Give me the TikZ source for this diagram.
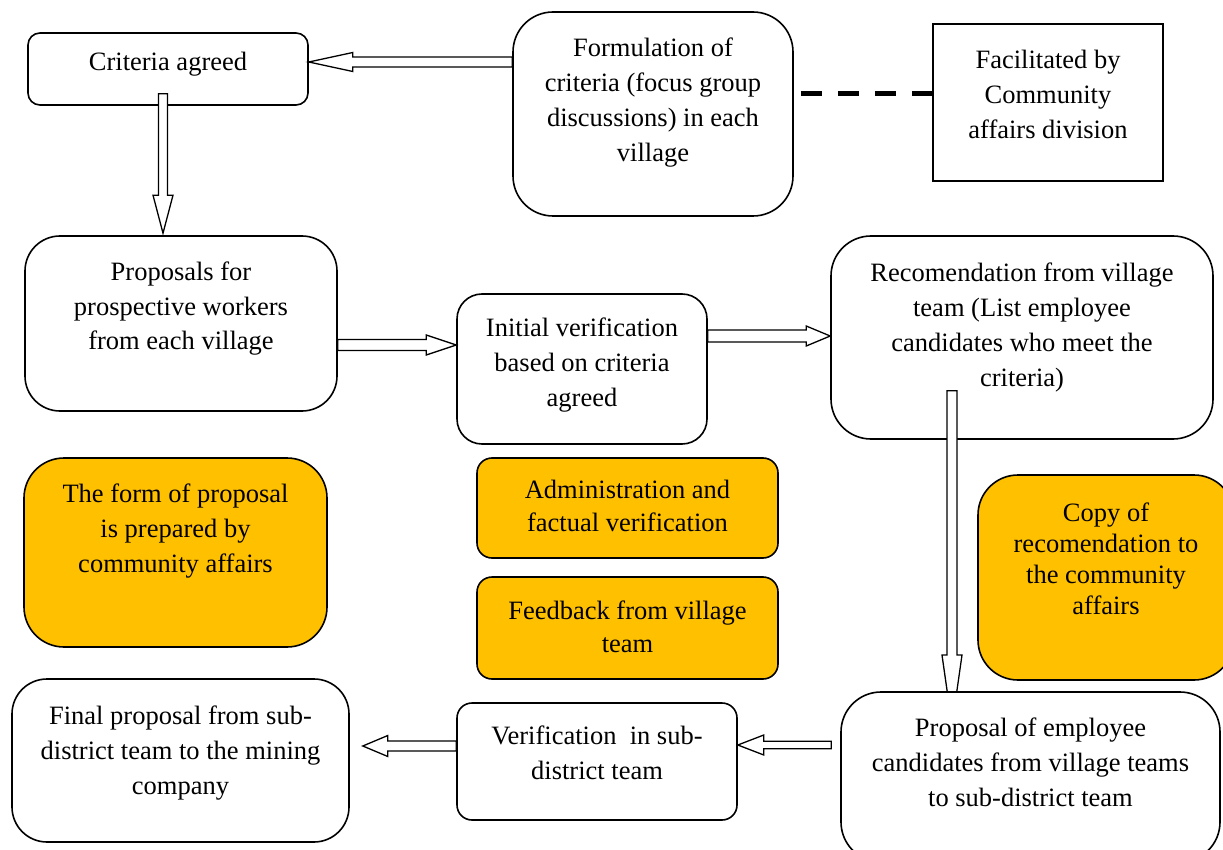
\documentclass[tikz,border=0pt]{standalone}
\usepackage{fontspec}
\setmainfont{Liberation Serif}
\usetikzlibrary{calc}
\definecolor{gold}{HTML}{FFC000}
\newcommand\bt[5]{\parbox[c][#2][t]{#1}{\centering\fontsize{26.5}{#4}\selectfont\vspace*{#3}\strut#5}}
\newcommand\blockarr[5]{%
  \coordinate (ba-s) at #1;
  \coordinate (ba-t) at #2;
  \coordinate (ba-b) at ($(ba-t)!#3!(ba-s)$);
  \draw[blockarrow] ($(ba-s)!#5!90:(ba-t)$) -- ($(ba-b)!#5!90:(ba-t)$) -- ($(ba-b)!#4!90:(ba-t)$) -- (ba-t)
     -- ($(ba-b)!#4!-90:(ba-t)$) -- ($(ba-b)!#5!-90:(ba-t)$) -- ($(ba-s)!#5!-90:(ba-t)$) -- cycle;
}
\tikzset{
  box/.style={draw, line width=1.6pt, fill=white, inner sep=0pt, rounded corners=#1},
  box/.default=10pt,
  obox/.style={box=#1, fill=gold},
  blockarrow/.style={draw, line width=1.3pt, fill=white, line join=miter},
  dashline/.style={line width=5pt, dash pattern=on 21pt off 16pt},
}
\begin{document}
\begin{tikzpicture}[x=1pt,y=-1pt]
\useasboundingbox (0,0) rectangle (1223,850);
\clip (0,0) rectangle (1223,850);
\fill[white] (0,0) rectangle (1223,850);

\node[box=12pt] (crit) at (168,69) {\bt{280pt}{72pt}{13.5pt}{35pt}{Criteria agreed}};
\node[box=40pt] (form) at (653,114) {\bt{280pt}{204pt}{20.5pt}{35pt}{Formulation of\\criteria (focus group\\discussions) in each\\village}};
\node[box=0pt] (fac) at (1048,102.5) {\bt{230pt}{157pt}{20.5pt}{35pt}{Facilitated by\\Community\\affairs division}};
\node[box=35pt] (prop) at (181,323.5) {\bt{312pt}{175pt}{19.5pt}{35pt}{Proposals for\\prospective workers\\from each village}};
\node[box=25pt] (init) at (582,369) {\bt{250pt}{150pt}{17.5pt}{35pt}{Initial verification\\based on criteria\\agreed}};
\node[box=40pt] (rec) at (1022,337.5) {\bt{382pt}{203pt}{20.5pt}{35pt}{Recomendation from village\\team (List employee\\candidates who meet the\\criteria)}};
\node[obox=40pt] (form2) at (175.5,552.5) {\bt{303pt}{189pt}{19.5pt}{35pt}{The form of proposal\\is prepared by\\community affairs}};
\node[obox=15pt] (adm) at (627.5,508) {\bt{301pt}{100pt}{16.9pt}{33pt}{Administration and\\factual verification}};
\node[obox=15pt] (feed) at (627.5,628) {\bt{301pt}{102pt}{18.9pt}{33pt}{Feedback from village\\team}};
\node[obox=40pt] (copy) at (1106,577.5) {\bt{256pt}{205pt}{24.3pt}{31pt}{Copy of\\recomendation to\\the community\\affairs}};
\node[box=15pt] (ver) at (597,761.5) {\bt{280pt}{117pt}{16.5pt}{35pt}{Verification\ \ in sub-\\district team}};
\node[box=35pt] (fin) at (180.5,760.5) {\bt{337pt}{163pt}{20.5pt}{35pt}{Final proposal from sub-\\district team to the mining\\company}};

% vertical arrow from recommendation (tip hidden under next box)
\blockarr{($(rec.south)+(-70,-49)$)}{(952,725)}{70pt}{10pt}{5pt}
\node[box=40pt] (emp) at (1030.5,777) {\bt{379pt}{170pt}{19.5pt}{35pt}{Proposal of employee\\candidates from village teams\\to sub-district team}};

\blockarr{(form.west |- 0,62)}{(crit.east |- 0,62)}{44pt}{9.5pt}{5pt}
\blockarr{($(crit.south)+(-5,-12)$)}{($(prop.north)+(-18,-2)$)}{38pt}{10pt}{4.5pt}
\blockarr{(prop.east |- 0,345)}{(init.west |- 0,345)}{30pt}{10pt}{5.5pt}
\blockarr{(init.east |- 0,336)}{(rec.west |- 0,336)}{24pt}{10pt}{6pt}
\blockarr{($(emp.west |- 0,745)+(-9,0)$)}{(ver.east |- 0,745)}{26pt}{10pt}{3.8pt}
\blockarr{(ver.west |- 0,746)}{($(fin.east |- 0,746)+(13,0)$)}{25pt}{10.5pt}{5pt}

\draw[dashline] ($(form.east |- 0,94)+(7,0)$) -- (fac.west |- 0,94);
\end{tikzpicture}
\end{document}
